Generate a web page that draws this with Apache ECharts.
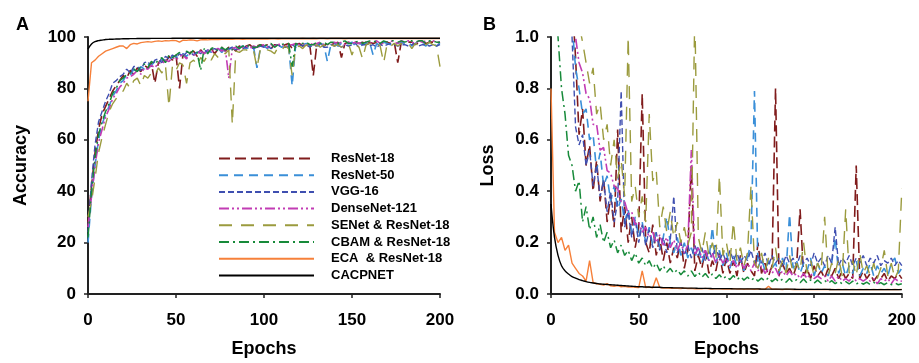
<!DOCTYPE html>
<html><head><meta charset="utf-8">
<script src="https://cdn.jsdelivr.net/npm/echarts@6/dist/echarts.min.js"></script>
<style>html,body{margin:0;padding:0;background:#fff}#c{width:919px;height:363px}</style>
</head><body><div id="c"></div>
<script>
// epochs sampled every 2 epochs: 0,2,...,200 (101 points)
const epochs = Array.from({length: 101}, (_, i) => i * 2);
const seriesNames = ['ResNet-18','ResNet-50','VGG-16','DenseNet-121','SENet & ResNet-18','CBAM & ResNet-18','ECA  & ResNet-18','CACPNET'];
const xTicks = [0, 50, 100, 150, 200];
const accTicks = [0, 20, 40, 60, 80, 100];
const lossTicks = [0.0, 0.2, 0.4, 0.6, 0.8, 1.0];

// ---- Accuracy (%) ----
const accResNet18 = [
28,42,55,64,70,73,76,79,81,83,
85,84,87,85.5,88,86.5,89,88,90,82,
90,91.5,90,92.5,91,93,80,93.5,92,94,
94.5,92.5,95,93.5,95,95.5,93.5,95.5,96,94.5,
96,96,94.5,96.5,95.5,96.5,97,95.5,96.5,97,
96.5,97,95.5,97,97,96,97,97.5,95.5,97,
97.5,96.5,97.5,97,85,97,97.5,96.5,97.5,97,
97.5,98,92,97.5,98,97,98,97.5,98,96.5,
98,97.5,98,97,98,98,97.5,98,90,98,
97.5,98,98,97,98,98.2,97.5,98,98,97.5,
98];
const accResNet50 = [
20,38,50,60,66,70,73,77,79,82,
83,85.5,85,87.5,86,88.5,87.5,89.5,89,90.5,
89.5,91.5,91,90.5,92.5,92.5,91.5,93.5,92.5,94,
93,94,94.5,93.5,95,94,95,95.5,94,95.5,
95,96,95,96,96.5,95.5,96,96.5,88,96,
96.5,95.5,97,96.5,97,96,97,96.5,81,97,
96.5,97,97.5,96.5,96.5,97,97.5,97,90.5,97,
97.5,96.5,97.5,97,97.5,98,96.5,97.5,97,97.5,
98,93,97.5,96.5,98,97.5,97,98,97.5,98,
97.5,98,96.5,97.5,98,97.5,96.5,98,97.5,96.5,
97.5];
const accVGG16 = [
24,44,58,67,71,75,78,82,83,84.5,
85.5,87.5,86,88.5,88.5,87,90,90.5,88.5,91,
91.5,90,92.5,91.5,93,92,93.5,92.5,94,94,
93,94.5,93.5,95,94,95,95.5,94.5,95.5,94.5,
95.5,96,95,96,95.5,96,96.5,95.5,96,96.5,
96,96.5,95.5,96.5,97,96,96,96.5,97,96,
97,96.5,97,96,97,96.5,97,96,96,97,
96.5,97,96,97,96.5,97,97.5,96,97,97,
96.5,97,96,97,96.5,97,97.5,97,96.5,97,
97,96.5,97,97.5,96.5,97,97,96.5,97,96.5,
97];
const accDenseNet121 = [
26,38,50,59,64,69,72,76,78,80.5,
82,84,84.5,85.5,87,85.5,88,87.5,89,88,
90,89.5,91,90.5,92,91,92.5,93,91.5,93.5,
93,93.5,94.5,93.5,95,94,95,95.5,94.5,95.5,
84,95.5,96,95,96,96.5,95.5,96.5,96,96.5,
97,96,97,96.5,97,97.5,96,97,97,97.5,
97,97.5,96.5,97.5,97,97.5,98,97,97,97.5,
98,97.5,98,97,98,97.5,98,97.5,98,98,
97.5,98,98.5,97.5,97.5,98,98.5,98,97.5,98.5,
98,98.5,98,97.5,98.5,98,98.5,98,98.5,98,
98];
const accSENet = [
30,36,45,55,61,66,71,74,76,78,
79,82,80,83,84,81,85,84,86,85,
88,86,89,73,89,87,90,89,82,90,
91,89,92,90.5,93,91,93.5,92,94,93.5,
95,66,94.5,94,95,95,94,95,88,95.5,
96,95,94.5,93.5,96,95,96.5,95.5,85,96,
96.5,95.5,97,96,95.5,97,96,97,95.5,97,
96.5,97,96,97,97.5,93,97,96,91.5,97,
97.5,96.5,97.5,96.5,90,97.5,96.5,97.5,96.5,97.5,
97,97.5,95.5,97.5,96.5,97.5,97,98,97,96.5,
88.5];
const accCBAM = [
22,40,53,62,67,71,74,78,80,83,
84,85.5,86,87.5,86.5,88.5,89.5,88,90.5,89.5,
91,92,90,93,92,93,94,92.5,94.5,93.5,
95,94,87,95.5,93.5,95.5,96,94.5,96,95,
96,95,96.5,95.5,96.5,96,97,96,96,97,
96.5,97,97.5,96,97,97,97.5,97.5,88.5,97.5,
97,97.5,98,97,97,98,97.5,98,97,98,
98,97.5,98,98.5,97.5,97.5,98,98.5,97.5,98,
98.5,98,98.5,97.5,98.5,98,98.5,98.5,98,98.5,
98,98.5,98.5,98,98.5,98.5,97.5,98.5,98.5,98,
98];
const accECA = [
75,90,91,92.5,93.5,94.5,95,95.5,96,96.5,
96.5,95.5,97,97.5,97.3,97.8,98,98.2,98,98.3,
98.5,98.3,98.6,98.5,98.7,98.6,98,98.8,98.7,98.9,
98.8,98.5,98.9,99,98.9,99,99.1,99,99.1,99.1,
99.2,99.1,99.2,99.2,99.1,99.2,99.2,99.3,99.2,99.2,
99.3,99.2,99.3,99.3,99.2,99.3,99.3,99.3,99.3,99.3,
99.3,99.4,99.3,99.3,99.4,99.3,99.4,99.4,99.3,99.4,
99.4,99.4,99.4,99.3,99.4,99.4,99.4,99.4,99.4,99.4,
99.4,99.4,99.4,99.4,99.4,99.4,99.4,99.4,99.4,99.4,
99.4,99.4,99.4,99.4,99.4,99.4,99.4,99.4,99.4,99.4,
99.4];
const accCACPNET = [
95.3,97.3,98.2,98.6,98.8,99,99.1,99.15,99.2,99.25,
99.3,99.3,99.35,99.35,99.4,99.4,99.4,99.4,99.45,99.45,
99.45,99.45,99.45,99.45,99.5,99.5,99.5,99.5,99.5,99.5,
99.5,99.5,99.5,99.5,99.5,99.5,99.5,99.5,99.5,99.5,
99.5,99.5,99.5,99.5,99.5,99.5,99.5,99.5,99.5,99.5,
99.5,99.5,99.5,99.5,99.5,99.5,99.5,99.5,99.5,99.5,
99.5,99.5,99.5,99.5,99.5,99.5,99.5,99.5,99.5,99.5,
99.5,99.5,99.5,99.5,99.5,99.5,99.5,99.5,99.5,99.5,
99.5,99.5,99.5,99.5,99.5,99.5,99.5,99.5,99.5,99.5,
99.5,99.5,99.5,99.5,99.5,99.5,99.5,99.5,99.5,99.5,
99.5];

// ---- Loss ----
const lossResNet18 = [
2.2,1.9,1.7,1.5,1.4,1.3,1.15,0.92,0.62,0.72,
0.5,0.58,0.4,0.52,0.36,0.45,0.28,0.38,0.26,0.64,
0.24,0.34,0.2,0.3,0.18,0.26,0.78,0.2,0.16,0.27,
0.15,0.22,0.13,0.2,0.12,0.18,0.14,0.21,0.1,0.17,
0.5,0.09,0.15,0.1,0.17,0.08,0.13,0.09,0.16,0.08,
0.14,0.08,0.13,0.07,0.15,0.08,0.12,0.09,0.07,0.2,
0.08,0.12,0.07,0.11,0.8,0.07,0.12,0.08,0.1,0.07,
0.11,0.33,0.07,0.1,0.06,0.11,0.07,0.09,0.06,0.1,
0.07,0.1,0.06,0.09,0.06,0.08,0.06,0.5,0.06,0.09,
0.06,0.08,0.05,0.07,0.06,0.08,0.05,0.07,0.06,0.08,
0.06];
const lossResNet50 = [
2.5,2.1,1.8,1.6,1.4,1.2,1.05,0.88,0.8,0.7,
0.72,0.6,0.62,0.48,0.55,0.42,0.46,0.36,0.42,0.33,
0.37,0.28,0.33,0.24,0.3,0.22,0.28,0.2,0.26,0.19,
0.24,0.18,0.22,0.3,0.2,0.16,0.22,0.15,0.2,0.14,
0.18,0.14,0.19,0.12,0.17,0.13,0.26,0.12,0.17,0.11,
0.16,0.1,0.15,0.11,0.14,0.09,0.14,0.2,0.79,0.1,
0.14,0.09,0.13,0.1,0.12,0.08,0.14,0.09,0.31,0.1,
0.13,0.08,0.12,0.09,0.14,0.07,0.12,0.08,0.11,0.07,
0.12,0.22,0.08,0.12,0.07,0.11,0.08,0.13,0.07,0.1,
0.08,0.12,0.07,0.11,0.08,0.1,0.07,0.12,0.14,0.08,
0.1];
const lossVGG16 = [
2.4,2.0,1.7,1.5,1.3,1.1,1.0,0.65,0.58,0.62,
0.5,0.56,0.42,0.5,0.38,0.44,0.32,0.4,0.28,0.36,
0.79,0.26,0.32,0.22,0.29,0.2,0.27,0.19,0.25,0.18,
0.24,0.17,0.22,0.16,0.21,0.38,0.16,0.2,0.15,0.19,
0.14,0.19,0.15,0.18,0.13,0.17,0.14,0.19,0.13,0.16,
0.12,0.17,0.13,0.16,0.12,0.15,0.13,0.17,0.12,0.15,
0.12,0.16,0.11,0.15,0.12,0.14,0.11,0.15,0.12,0.14,
0.11,0.15,0.12,0.14,0.11,0.16,0.12,0.14,0.11,0.15,
0.12,0.26,0.11,0.14,0.12,0.15,0.11,0.14,0.12,0.15,
0.11,0.14,0.12,0.15,0.11,0.13,0.12,0.14,0.11,0.13,
0.11];
const lossDenseNet121 = [
2.6,2.2,1.9,1.7,1.5,1.3,1.15,1.0,0.9,0.86,
0.78,0.76,0.66,0.66,0.56,0.57,0.48,0.47,0.42,0.41,
0.36,0.36,0.31,0.32,0.27,0.28,0.24,0.26,0.22,0.24,
0.2,0.23,0.19,0.22,0.18,0.21,0.17,0.2,0.16,0.19,
0.56,0.15,0.18,0.14,0.17,0.13,0.16,0.12,0.15,0.12,
0.14,0.11,0.13,0.1,0.13,0.1,0.12,0.09,0.12,0.09,
0.11,0.08,0.1,0.08,0.1,0.07,0.09,0.07,0.09,0.07,
0.08,0.06,0.08,0.06,0.08,0.06,0.07,0.06,0.07,0.05,
0.07,0.05,0.07,0.05,0.06,0.05,0.07,0.05,0.06,0.05,
0.06,0.05,0.06,0.04,0.06,0.05,0.06,0.04,0.06,0.05,
0.05];
const lossSENet = [
3.0,2.6,2.3,2.0,1.8,1.6,1.4,1.2,1.05,0.98,
0.9,0.82,0.88,0.7,0.74,0.6,0.66,0.5,0.6,0.45,
0.52,0.38,1.0,0.36,0.42,0.3,0.38,0.28,0.7,0.44,
0.48,0.26,0.34,0.24,0.32,0.22,0.28,0.2,0.26,0.19,
0.24,1.1,0.22,0.16,0.24,0.15,0.2,0.14,0.46,0.15,
0.2,0.12,0.28,0.13,0.18,0.11,0.16,0.42,0.12,0.1,
0.16,0.09,0.14,0.1,0.18,0.09,0.13,0.08,0.15,0.08,
0.12,0.09,0.2,0.08,0.13,0.07,0.12,0.09,0.3,0.07,
0.12,0.08,0.14,0.07,0.33,0.08,0.13,0.07,0.16,0.08,
0.11,0.07,0.12,0.06,0.1,0.17,0.07,0.12,0.06,0.09,
0.41];
const lossCBAM = [
1.8,1.3,1.0,0.8,0.7,0.54,0.5,0.4,0.44,0.28,
0.34,0.25,0.3,0.22,0.27,0.2,0.24,0.18,0.21,0.16,
0.19,0.15,0.17,0.13,0.16,0.12,0.14,0.11,0.13,0.1,
0.12,0.09,0.11,0.085,0.1,0.08,0.095,0.075,0.09,0.07,
0.09,0.068,0.085,0.065,0.08,0.062,0.078,0.06,0.075,0.058,
0.07,0.056,0.072,0.055,0.068,0.054,0.066,0.052,0.064,0.05,
0.062,0.05,0.064,0.048,0.06,0.047,0.058,0.046,0.06,0.045,
0.056,0.044,0.058,0.043,0.055,0.042,0.054,0.042,0.053,0.041,
0.052,0.04,0.05,0.04,0.048,0.039,0.05,0.038,0.047,0.038,
0.046,0.037,0.045,0.037,0.044,0.036,0.045,0.036,0.043,0.036,
0.04];
const lossECA = [
0.8,0.24,0.2,0.22,0.17,0.19,0.12,0.1,0.08,0.07,
0.05,0.13,0.045,0.04,0.038,0.035,0.04,0.032,0.03,0.033,
0.028,0.03,0.027,0.028,0.026,0.025,0.09,0.025,0.027,0.024,
0.063,0.025,0.023,0.024,0.022,0.023,0.022,0.021,0.023,0.021,
0.022,0.02,0.021,0.02,0.022,0.02,0.019,0.021,0.02,0.019,
0.02,0.019,0.021,0.019,0.02,0.018,0.02,0.019,0.018,0.02,
0.019,0.018,0.03,0.018,0.019,0.018,0.017,0.019,0.018,0.017,
0.018,0.017,0.018,0.017,0.018,0.017,0.018,0.017,0.018,0.017,
0.018,0.017,0.018,0.017,0.018,0.017,0.018,0.017,0.018,0.017,
0.018,0.017,0.018,0.017,0.018,0.017,0.018,0.017,0.018,0.017,
0.018];
const lossCACPNET = [
0.35,0.22,0.15,0.11,0.09,0.078,0.068,0.062,0.056,0.052,
0.048,0.045,0.043,0.041,0.039,0.038,0.037,0.036,0.035,0.034,
0.033,0.032,0.031,0.03,0.029,0.028,0.028,0.027,0.027,0.026,
0.026,0.026,0.025,0.025,0.025,0.024,0.024,0.024,0.023,0.023,
0.023,0.023,0.022,0.022,0.022,0.022,0.021,0.021,0.021,0.021,
0.021,0.021,0.02,0.02,0.02,0.02,0.02,0.02,0.02,0.02,
0.019,0.019,0.019,0.019,0.019,0.019,0.019,0.019,0.019,0.019,
0.018,0.018,0.018,0.018,0.018,0.018,0.018,0.018,0.018,0.018,
0.017,0.017,0.017,0.017,0.017,0.017,0.017,0.017,0.017,0.017,
0.017,0.017,0.017,0.017,0.017,0.017,0.017,0.017,0.017,0.017,
0.017];

const accData = [accResNet18, accResNet50, accVGG16, accDenseNet121, accSENet, accCBAM, accECA, accCACPNET];
const lossData = [lossResNet18, lossResNet50, lossVGG16, lossDenseNet121, lossSENet, lossCBAM, lossECA, lossCACPNET];

const colors = ['#801c1c','#3a8fd8','#3f4fb0','#c23cb4','#9b9b3e','#178a3a','#f6803a','#000000'];
const dashes = [[11,5],[9,6],[6,3],[10,3,2,3,2,3],[13,9],[10,4,2,4],'solid','solid'];
const widths = [1.6,1.6,1.4,1.6,1.4,1.5,1.4,1.4];

const FONT = '"Liberation Sans", Arial, sans-serif';
function pairs(arr){ return arr.map((v,i)=>[epochs[i], v]); }

const series = [];
[0,1].forEach(g => {
  const src = g === 0 ? accData : lossData;
  seriesNames.forEach((name, k) => {
    series.push({
      name, type: 'line', xAxisIndex: g, yAxisIndex: g,
      data: pairs(src[k]), symbol: 'none', showSymbol: false,
      smooth: k === 7 ? 0.4 : false, clip: true,
      lineStyle: {color: colors[k], width: widths[k], type: dashes[k]},
      itemStyle: {color: colors[k]},
      animation: false
    });
  });
});

function xAxis(idx){
  return {
    type: 'value', gridIndex: idx, min: xTicks[0], max: xTicks[xTicks.length-1], interval: 50,
    name: 'Epochs', nameLocation: 'middle', nameGap: 46,
    nameTextStyle: {fontFamily: FONT, fontWeight: 'bold', fontSize: 18, color: '#000'},
    axisLine: {lineStyle: {color: '#222', width: 2}},
    axisTick: {show: true, length: 4, lineStyle: {color: '#222', width: 1.5}},
    axisLabel: {fontFamily: FONT, fontWeight: 'bold', fontSize: 17, color: '#000', margin: 18},
    splitLine: {show: false}
  };
}
function yAxis(idx){
  const isAcc = idx === 0;
  const t = isAcc ? accTicks : lossTicks;
  return {
    type: 'value', gridIndex: idx, min: t[0], max: t[t.length-1], interval: isAcc ? 20 : 0.2,
    name: isAcc ? 'Accuracy' : 'Loss', nameLocation: 'middle', nameGap: isAcc ? 58 : 54,
    nameTextStyle: {fontFamily: FONT, fontWeight: 'bold', fontSize: 18, color: '#000'},
    axisLine: {show: true, lineStyle: {color: '#222', width: 2}},
    axisTick: {show: true, length: 4, lineStyle: {color: '#222', width: 1.5}},
    axisLabel: {fontFamily: FONT, fontWeight: 'bold', fontSize: 17, color: '#000', margin: 12,
      formatter: v => isAcc ? String(v) : v.toFixed(1)},
    splitLine: {show: false}
  };
}

const chart = echarts.init(document.getElementById('c'), null, {renderer: 'canvas'});
chart.setOption({
  backgroundColor: '#fff',
  animation: false,
  grid: [
    {left: 88, top: 37, width: 352, height: 262},
    {left: 551, top: 37, width: 351, height: 262}
  ],
  xAxis: [xAxis(0), xAxis(1)],
  yAxis: [yAxis(0), yAxis(1)],
  legend: {
    data: seriesNames, orient: 'vertical', left: 213, top: 147,
    itemWidth: 95, itemHeight: 14, itemGap: 3.7,
    itemStyle: {opacity: 0},
    textStyle: {fontFamily: FONT, fontWeight: 'bold', fontSize: 13, color: '#000', padding: [0,0,0,12]},
    selectedMode: false
  },
  graphic: [
    {type: 'text', left: 16, top: 16, style: {text: 'A', font: 'bold 18px ' + FONT, fill: '#000'}},
    {type: 'text', left: 483, top: 16, style: {text: 'B', font: 'bold 18px ' + FONT, fill: '#000'}}
  ],
  series
});
</script></body></html>
